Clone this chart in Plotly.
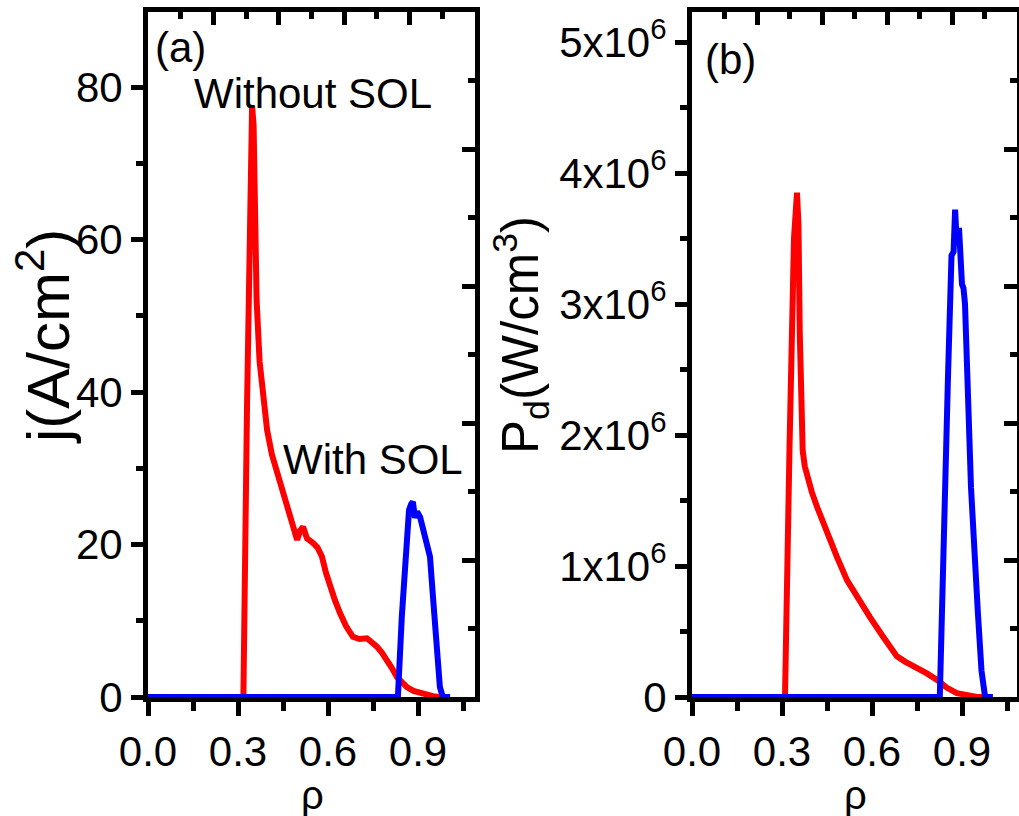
import plotly.graph_objects as go

# ---------------- data ----------------
# (a) current density j (A/cm^2) vs rho
rho_a_without = [0.0, 0.318, 0.330, 0.340, 0.347, 0.352, 0.358, 0.362, 0.372, 0.383, 0.397,
                 0.413, 0.430, 0.447, 0.463, 0.480, 0.497, 0.507, 0.517, 0.530, 0.540,
                 0.550, 0.565, 0.580, 0.593, 0.607, 0.623, 0.640, 0.660, 0.683, 0.705,
                 0.730, 0.745, 0.763, 0.780, 0.797, 0.813, 0.830, 0.847, 0.863, 0.885,
                 0.907, 0.930, 0.950, 0.970, 0.980]
j_without = [0.0, 0.0, 38.0, 66.0, 77.5, 75.0, 62.0, 52.0, 44.0, 39.5, 35.0,
             31.8, 29.4, 27.0, 24.9, 22.8, 20.6, 21.8, 22.3, 20.8, 20.6,
             20.2, 19.6, 18.4, 16.3, 14.4, 12.7, 11.0, 9.3, 7.9, 7.6,
             7.7, 7.3, 6.6, 5.8, 4.9, 3.8, 2.6, 1.9, 1.3, 0.8,
             0.5, 0.3, 0.1, 0.0, 0.0]

rho_a_with = [0.0, 0.833, 0.846, 0.862, 0.870, 0.877, 0.883, 0.890, 0.897, 0.907,
              0.923, 0.940, 0.950, 0.963, 0.973, 0.983, 1.007]
j_with = [0.0, 0.0, 10.5, 21.9, 24.5, 25.3, 25.6, 23.5, 24.3, 23.6,
          21.0, 18.4, 13.1, 6.6, 1.3, 0.0, 0.0]

# (b) power density P_d (W/cm^3) vs rho
rho_b_without = [0.0, 0.310, 0.325, 0.340, 0.350, 0.355, 0.359, 0.362, 0.365, 0.369,
                 0.376, 0.387, 0.400, 0.417, 0.450, 0.483, 0.517, 0.550, 0.593, 0.637,
                 0.683, 0.710, 0.737, 0.783, 0.817, 0.850, 0.883, 0.917, 0.950, 0.980]
p_without = [0.0, 0.0, 1.9e6, 3.5e6, 3.85e6, 3.6e6, 2.8e6, 2.3e6, 2.05e6, 1.88e6,
             1.76e6, 1.66e6, 1.56e6, 1.45e6, 1.25e6, 1.07e6, 0.89e6, 0.76e6, 0.61e6, 0.46e6,
             0.31e6, 0.27e6, 0.24e6, 0.18e6, 0.13e6, 0.07e6, 0.03e6, 0.01e6, 0.0, 0.0]

rho_b_with = [0.0, 0.826, 0.853, 0.860, 0.865, 0.872, 0.877, 0.883, 0.890, 0.900,
              0.905, 0.910, 0.917, 0.930, 0.953, 0.965, 0.977, 1.003]
p_with = [0.0, 0.0, 2.42e6, 3.0e6, 3.37e6, 3.40e6, 3.72e6, 3.45e6, 3.58e6, 3.15e6,
          3.12e6, 3.0e6, 2.42e6, 1.6e6, 0.64e6, 0.2e6, 0.0, 0.0]

x_major = [0.0, 0.3, 0.6, 0.9]
x_minor = [0.15, 0.45, 0.75, 1.05]
x_ticklabels = ["0.0", "0.3", "0.6", "0.9"]
ya_major = [0, 20, 40, 60, 80]
ya_minor = [10, 30, 50, 70]
yb_major = [0, 1e6, 2e6, 3e6, 4e6, 5e6]
yb_minor = [0.5e6, 1.5e6, 2.5e6, 3.5e6, 4.5e6]
yb_ticklabels = ["0", "1x10<sup>6</sup>", "2x10<sup>6</sup>", "3x10<sup>6</sup>",
                 "4x10<sup>6</sup>", "5x10<sup>6</sup>"]
frame_major = [0.2, 0.4, 0.6, 0.8]
frame_minor = [0.1, 0.3, 0.5, 0.7, 0.9]

# ---------------- styling ----------------
FONT = "Arial, Liberation Sans, sans-serif"
TICKFONT = dict(family=FONT, size=42, color="black")
RED = "#ff0000"
BLUE = "#0000ff"
LW = 6
TW = 5

W, H = 1019, 816
xa_dom = [148 / W, 475 / W]
xb_dom = [692 / W, 1017 / W]
y_dom = [(H - 697) / H, (H - 12) / H]

fig = go.Figure()

fig.add_trace(go.Scatter(x=rho_a_without, y=j_without, mode="lines",
                         line=dict(color=RED, width=LW), xaxis="x", yaxis="y",
                         showlegend=False, hoverinfo="skip"))
fig.add_trace(go.Scatter(x=rho_a_with, y=j_with, mode="lines",
                         line=dict(color=BLUE, width=LW), xaxis="x", yaxis="y",
                         showlegend=False, hoverinfo="skip"))
fig.add_trace(go.Scatter(x=rho_b_without, y=p_without, mode="lines",
                         line=dict(color=RED, width=LW), xaxis="x2", yaxis="y2",
                         showlegend=False, hoverinfo="skip"))
fig.add_trace(go.Scatter(x=rho_b_with, y=p_with, mode="lines",
                         line=dict(color=BLUE, width=LW), xaxis="x2", yaxis="y2",
                         showlegend=False, hoverinfo="skip"))

# dummy traces so the frame (top / right) axes are drawn
for xa, ya in [("x3", "y"), ("x", "y3"), ("x4", "y2"), ("x2", "y4")]:
    fig.add_trace(go.Scatter(x=[None], y=[None], xaxis=xa, yaxis=ya,
                             showlegend=False, hoverinfo="skip"))

axis_common = dict(showgrid=False, zeroline=False, showline=True, linecolor="black",
                   linewidth=5, tickcolor="black", tickwidth=TW, tickfont=TICKFONT,
                   fixedrange=True, automargin=False)


def bottom_axis(domain, rng, anchor):
    return dict(axis_common, domain=domain, range=rng, anchor=anchor,
                tickmode="array", tickvals=x_major, ticktext=x_ticklabels,
                ticks="outside", ticklen=14,
                minor=dict(tickvals=x_minor, ticks="outside", ticklen=9,
                           tickwidth=TW, tickcolor="black"))


def top_axis(overlay, anchor):
    return dict(axis_common, overlaying=overlay, side="top", anchor=anchor,
                range=[0, 1], tickmode="array", tickvals=frame_major,
                showticklabels=False, ticks="inside", ticklen=13,
                minor=dict(tickvals=frame_minor, ticks="inside", ticklen=7,
                           tickwidth=TW, tickcolor="black"))


def right_axis(overlay, anchor):
    return dict(axis_common, overlaying=overlay, side="right", anchor=anchor,
                range=[0, 1], tickmode="array", tickvals=frame_major,
                showticklabels=False, ticks="inside", ticklen=13,
                minor=dict(tickvals=frame_minor, ticks="inside", ticklen=7,
                           tickwidth=TW, tickcolor="black"))


fig.update_layout(
    width=W, height=H,
    margin=dict(l=0, r=0, t=0, b=0, autoexpand=False),
    paper_bgcolor="white", plot_bgcolor="white",
    font=dict(family=FONT, color="black"),
    xaxis=bottom_axis(xa_dom, [0, 327 / 300], "y"),
    xaxis2=bottom_axis(xb_dom, [0, 325 / 300], "y2"),
    yaxis=dict(axis_common, domain=y_dom, range=[0, 685 / 7.625], anchor="x",
               tickmode="array", tickvals=ya_major, ticks="outside", ticklen=12,
               minor=dict(tickvals=ya_minor, ticks="outside", ticklen=7,
                          tickwidth=TW, tickcolor="black")),
    yaxis2=dict(axis_common, domain=y_dom, range=[0, 685 / 131 * 1e6], anchor="x2",
                tickmode="array", tickvals=yb_major, ticktext=yb_ticklabels,
                ticks="outside", ticklen=12,
                minor=dict(tickvals=yb_minor, ticks="outside", ticklen=7,
                           tickwidth=TW, tickcolor="black")),
    xaxis3=top_axis("x", "y"),
    yaxis3=right_axis("y", "x"),
    xaxis4=top_axis("x2", "y2"),
    yaxis4=right_axis("y2", "x2"),
)

ann_font = dict(family=FONT, size=42, color="black")
rho_font = dict(family=FONT, size=40, color="black")
annotations = [
    dict(text="(a)", x=180 / W, y=1 - 47 / H, font=ann_font),
    dict(text="Without SOL", x=313 / W, y=1 - 93 / H, font=ann_font),
    dict(text="With SOL", x=373 / W, y=1 - 459 / H, font=ann_font),
    dict(text="(b)", x=730 / W, y=1 - 60 / H, font=ann_font),
    dict(text="ρ", x=312 / W, y=1 - 795 / H, font=rho_font),
    dict(text="ρ", x=855 / W, y=1 - 795 / H, font=rho_font),
    dict(text="j(A/cm<sup>2</sup>)", x=44 / W, y=1 - 337 / H, textangle=-90,
         font=dict(family=FONT, size=60, color="black")),
    dict(text="P<sub>d</sub>(W/cm<sup>3</sup>)", x=521 / W, y=1 - 335 / H, textangle=-90,
         font=dict(family=FONT, size=51, color="black")),
]
for a in annotations:
    a.update(xref="paper", yref="paper", showarrow=False, xanchor="center", yanchor="middle")
fig.update_layout(annotations=annotations)

fig.write_html("out.html")
